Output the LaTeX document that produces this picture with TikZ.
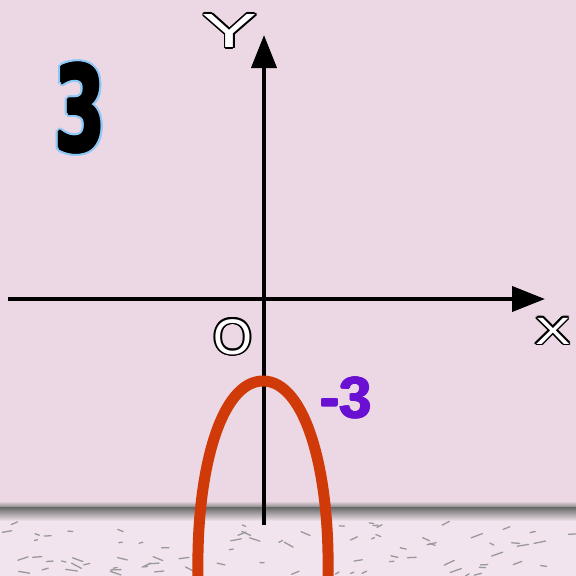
\documentclass[tikz,border=0pt]{standalone}
\usepackage{fontspec}
\setmainfont{Liberation Sans}
\newfontfamily\condfont{DejaVu Sans Condensed}
\usetikzlibrary{arrows.meta,calc}
\definecolor{bgpink}{HTML}{ECD7E4}
\definecolor{floor}{HTML}{F1E4EE}
\definecolor{curvecol}{HTML}{D03A08}
\definecolor{numpurple}{HTML}{6A10D2}
\definecolor{outblue}{HTML}{8EC9F6}
\tikzset{
  axis/.style={line width=4pt,-{Triangle[length=33pt,width=25pt]}},
  lettr/.style={inner sep=0pt,font=\fontsize{#1}{#1}\selectfont},
  curve/.style={line width=11pt,color=curvecol}
}
\begin{document}
\begin{tikzpicture}[x=1pt,y=-1pt]
\useasboundingbox (0,0) rectangle (576,576);
\fill[bgpink] (0,0) rectangle (576,576);
% floor strip
\fill[floor] (0,508) rectangle (576,576);
\shade[top color=bgpink,bottom color=black!45] (0,501) rectangle (576,507);
\shade[top color=black!60,bottom color=floor] (0,507) rectangle (576,521);
\pgfmathsetseed{7}
\foreach \i in {1,...,80}{
  \pgfmathsetmacro{\px}{rnd*576}
  \pgfmathsetmacro{\py}{522+rnd*54}
  \pgfmathsetmacro{\ang}{rnd*60-30}
  \pgfmathsetmacro{\len}{3+rnd*9}
  \draw[black!40,line width=1.3pt,line cap=round] (\px,\py) -- ++(\ang:\len);
}
% axes
\coordinate (xs) at (8,299);
\coordinate (xe) at (545,299);
\coordinate (ys) at (264,525);
\coordinate (ye) at (264,35);
\draw[axis] (xs) -- (xe);
\draw[axis] (ys) -- (ye);
% curve
\coordinate (cl) at (198,576);
\coordinate (cv) at (263,381);
\coordinate (cr) at (328,576);
\draw[curve] (cl) .. controls (196,470) and (221,381) .. (cv)
                  .. controls (305,381) and (330,470) .. (cr);
% labels with outline
\foreach \a in {0,30,...,330}{
  \node[lettr=48,xscale=1.75,text=black] (yo\a) at ($(230,31)+(\a:1.6)$) {Y};
  \node[lettr=38,xscale=1.4,text=black] (xo\a) at ($(553,331)+(\a:1.6)$) {X};
  \node[lettr=50,text=black] (oo\a) at ($(233,337)+(\a:1.6)$) {O};
  \node[lettr=118,xscale=0.68,text=outblue] (to\a) at ($(80,108)+(\a:3.6)$) {\condfont\bfseries 3};
}
\foreach \a in {0,60,...,300}{
  \node[lettr=118,xscale=0.68,text=black] (tb\a) at ($(80,108)+(\a:1.3)$) {\condfont\bfseries 3};
  \node[inner sep=0pt,text=numpurple,font=\bfseries\fontsize{58}{58}\selectfont] (mb\a) at ($(346,398)+(\a:0.8)$) {-3};
}
\node[lettr=48,xscale=1.75,text=white] (ylab) at (230,31) {Y};
\node[lettr=38,xscale=1.4,text=white] (xlab) at (553,331) {X};
\node[lettr=50,text=white] (olab) at (233,337) {O};
\node[lettr=118,xscale=0.68,text=black] (three) at (80,108) {\condfont\bfseries 3};
\node[inner sep=0pt,text=numpurple,font=\bfseries\fontsize{58}{58}\selectfont] (m3) at (346,398) {-3};
\end{tikzpicture}
\end{document}
